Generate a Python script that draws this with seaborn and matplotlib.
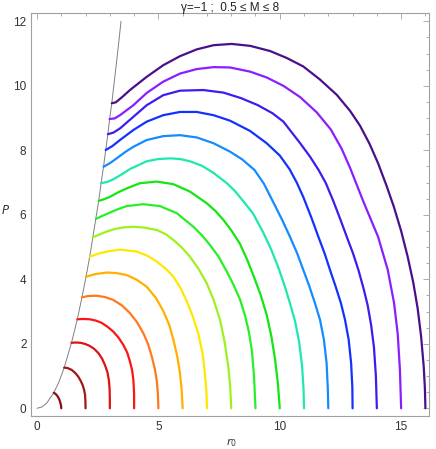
import pandas as pd
import seaborn as sns
import matplotlib.pyplot as plt
from matplotlib.ticker import MultipleLocator

# --- DATOS ---
masses = [0.5, 1.0, 1.5, 2.0, 2.5, 3.0, 3.5, 4.0, 4.5, 5.0, 5.5, 6.0, 6.5, 7.0, 7.5, 8.0]
colors = ['#8b0f0f', '#a01818', '#e01212', '#ff1414', '#ff7a1e', '#ffb000', '#ffe800', '#a0f020',
          '#28f028', '#14e614', '#1ee8b0', '#148cff', '#1432ff', '#3a1ef0', '#8a1eff', '#4a108c']

# frontera (linea fina gris)
bound_r = [0, 0.2, 0.4, 0.69, 0.9, 1.12, 1.42, 1.66, 1.85, 2.02, 2.17, 2.30, 2.42, 2.54, 2.64,
           2.74, 2.83, 2.92, 2.99, 3.08, 3.2, 3.33, 3.46]
bound_p = [0, 0.04, 0.16, 0.48, 0.81, 1.26, 2.03, 2.76, 3.44, 4.08, 4.70, 5.30, 5.87, 6.43, 6.98,
           7.49, 8.01, 8.50, 8.97, 9.46, 10.24, 11.09, 12.0]

r_05 = [0.69, 0.76, 0.84, 0.91, 0.96, 0.99, 1.0]
p_05 = [0.48, 0.45, 0.38, 0.29, 0.18, 0.08, 0]
r_10 = [1.12, 1.25, 1.43, 1.58, 1.70, 1.80, 1.88, 1.94, 1.98, 1.995, 2.0]
p_10 = [1.26, 1.25, 1.19, 1.09, 0.98, 0.85, 0.72, 0.57, 0.41, 0.2, 0]
r_15 = [1.42, 1.60, 1.80, 2.00, 2.18, 2.36, 2.53, 2.68, 2.80, 2.90, 2.96, 2.99, 3.0, 3.0]
p_15 = [2.03, 2.04, 2.03, 1.99, 1.93, 1.84, 1.71, 1.54, 1.34, 1.12, 0.88, 0.6, 0.3, 0]
r_20 = [1.66, 1.9, 2.18, 2.42, 2.66, 2.90, 3.14, 3.36, 3.56, 3.72, 3.83, 3.92, 3.97, 4.0, 4.0]
p_20 = [2.76, 2.77, 2.76, 2.72, 2.65, 2.53, 2.38, 2.19, 1.96, 1.72, 1.45, 1.17, 0.88, 0.45, 0]
r_25 = [1.85, 2.1, 2.46, 2.8, 3.14, 3.50, 3.83, 4.11, 4.38, 4.58, 4.73, 4.85, 4.93, 4.98, 5.0]
p_25 = [3.44, 3.48, 3.49, 3.45, 3.36, 3.19, 2.95, 2.68, 2.33, 1.98, 1.60, 1.23, 0.88, 0.45, 0]
r_30 = [2.02, 2.4, 2.87, 3.3, 3.70, 4.1, 4.52, 4.9, 5.20, 5.45, 5.62, 5.78, 5.89, 5.96, 6.0]
p_30 = [4.08, 4.16, 4.21, 4.19, 4.13, 3.99, 3.77, 3.42, 3.02, 2.58, 2.12, 1.60, 1.09, 0.55, 0]
r_35 = [2.17, 2.5, 2.87, 3.42, 4.11, 4.55, 4.93, 5.30, 5.62, 5.92, 6.18, 6.42, 6.65, 6.82, 6.92, 6.98, 7.0]
p_35 = [4.70, 4.79, 4.86, 4.92, 4.86, 4.73, 4.55, 4.33, 4.08, 3.72, 3.30, 2.84, 2.30, 1.70, 1.05, 0.5, 0]
r_40 = [2.30, 2.6, 2.87, 3.2, 3.56, 3.97, 4.45, 4.93, 5.3, 5.62, 5.96, 6.30, 6.65, 6.99, 7.28, 7.54,
        7.73, 7.88, 7.96, 8.0]
p_40 = [5.30, 5.40, 5.48, 5.56, 5.61, 5.63, 5.60, 5.53, 5.40, 5.22, 4.99, 4.70, 4.33, 3.88, 3.35, 2.74,
        2.05, 1.29, 0.65, 0]
r_45 = [2.42, 2.7, 3.01, 3.35, 3.70, 4.38, 5.07, 5.76, 6.44, 6.80, 7.13, 7.48, 7.82, 8.10, 8.36, 8.56,
        8.72, 8.85, 8.94, 9.0]
p_45 = [5.87, 5.97, 6.07, 6.18, 6.27, 6.33, 6.27, 6.05, 5.63, 5.36, 5.06, 4.70, 4.24, 3.82, 3.38, 2.90,
        2.40, 1.80, 1.00, 0]
r_50 = [2.54, 2.75, 3.01, 3.35, 3.70, 4.24, 4.93, 5.62, 6.30, 6.99, 7.35, 7.68, 8.02, 8.36, 8.65, 8.95,
        9.22, 9.46, 9.65, 9.80, 9.92, 10.0]
p_50 = [6.43, 6.48, 6.56, 6.70, 6.82, 6.98, 7.03, 6.95, 6.72, 6.36, 6.12, 5.84, 5.50, 5.10, 4.62, 4.05,
        3.50, 2.90, 2.25, 1.55, 0.80, 0]
r_55 = [2.64, 2.9, 3.14, 3.5, 3.83, 4.52, 5.0, 5.48, 5.9, 6.30, 6.80, 7.27, 7.82, 8.15, 8.50, 8.90,
        9.32, 9.65, 9.94, 10.20, 10.42, 10.63, 10.80, 10.92, 10.98, 11.0]
p_55 = [6.98, 7.02, 7.10, 7.26, 7.42, 7.66, 7.73, 7.75, 7.73, 7.66, 7.52, 7.30, 6.98, 6.74, 6.42, 6.04,
        5.45, 4.92, 4.37, 3.80, 3.26, 2.70, 2.05, 1.30, 0.60, 0]
r_60 = [2.74, 3.0, 3.28, 3.62, 3.97, 4.52, 5.20, 5.89, 6.58, 7.27, 7.95, 8.45, 8.96, 9.35, 9.74, 10.10,
        10.42, 10.72, 10.97, 11.22, 11.45, 11.66, 11.82, 11.93, 11.98, 12.0]
p_60 = [7.49, 7.60, 7.75, 7.94, 8.11, 8.32, 8.44, 8.47, 8.40, 8.22, 7.96, 7.72, 7.39, 6.96, 6.38, 5.84,
        5.32, 4.80, 4.29, 3.78, 3.26, 2.74, 2.12, 1.40, 0.60, 0]
r_65 = [2.83, 3.1, 3.42, 3.97, 4.52, 5.20, 5.89, 6.58, 7.27, 7.95, 8.78, 9.46, 10.0, 10.40, 10.70, 10.97,
        11.30, 11.59, 11.85, 12.07, 12.30, 12.52, 12.69, 12.84, 12.94, 12.99, 13.0]
p_65 = [8.01, 8.13, 8.32, 8.63, 8.89, 9.09, 9.19, 9.19, 9.09, 8.92, 8.60, 8.22, 7.84, 7.42, 7.00, 6.55,
        5.92, 5.32, 4.80, 4.29, 3.78, 3.26, 2.74, 2.12, 1.40, 0.65, 0]
r_70 = [2.92, 3.15, 3.42, 3.97, 4.52, 5.20, 5.89, 6.85, 7.68, 8.40, 9.10, 9.70, 10.15, 10.84, 11.25,
        11.60, 11.90, 12.21, 12.50, 12.76, 13.02, 13.24, 13.45, 13.62, 13.76, 13.88, 13.96, 14.0]
p_70 = [8.50, 8.55, 8.68, 9.04, 9.40, 9.71, 9.85, 9.87, 9.79, 9.62, 9.40, 9.15, 8.89, 8.22, 7.80,
        7.39, 6.98, 6.42, 5.85, 5.32, 4.80, 4.29, 3.72, 3.20, 2.60, 1.90, 1.00, 0]
r_75 = [2.99, 3.2, 3.42, 3.97, 4.52, 5.20, 5.89, 6.58, 7.27, 7.95, 8.78, 9.46, 10.15, 10.84, 11.52,
        12.10, 12.55, 12.90, 13.45, 14.05, 14.45, 14.71, 14.86, 14.95, 15.0]
p_75 = [8.97, 8.99, 9.09, 9.40, 9.78, 10.13, 10.38, 10.52, 10.58, 10.57, 10.44, 10.26, 10.00, 9.65, 9.18,
        8.65, 8.05, 7.45, 6.40, 5.32, 4.29, 3.26, 2.30, 1.20, 0]
r_80 = [3.08, 3.25, 3.55, 3.83, 4.52, 5.20, 5.89, 6.58, 7.27, 8.02, 8.78, 9.60, 10.30, 10.97, 11.65,
        12.35, 12.90, 13.31, 13.70, 14.05, 14.40, 14.70, 15.00, 15.27, 15.50, 15.68, 15.82, 15.93, 15.98, 16.0]
p_80 = [9.46, 9.49, 9.68, 9.87, 10.28, 10.64, 10.92, 11.13, 11.26, 11.30, 11.24, 11.08, 10.86, 10.60, 10.20,
        9.72, 9.22, 8.76, 8.20, 7.60, 6.90, 6.25, 5.50, 4.70, 3.90, 3.10, 2.25, 1.30, 0.60, 0]

curves_r = [r_05, r_10, r_15, r_20, r_25, r_30, r_35, r_40, r_45, r_50, r_55, r_60, r_65, r_70, r_75, r_80]
curves_p = [p_05, p_10, p_15, p_20, p_25, p_30, p_35, p_40, p_45, p_50, p_55, p_60, p_65, p_70, p_75, p_80]

rows = []
for m, rr, pp in zip(masses, curves_r, curves_p):
    for r, p in zip(rr, pp):
        rows.append({'M': m, 'r0': r, 'P': p})
df = pd.DataFrame(rows)

# --- FIGURA ---
sns.set_style('white')
plt.rcParams['font.family'] = ['Liberation Sans', 'DejaVu Sans']

fig = plt.figure(figsize=(4.36, 4.49), dpi=100)
ax = fig.add_axes([0.0718, 0.0742, 0.9128, 0.8962])

sns.lineplot(x=bound_r, y=bound_p, color='#808080', lw=0.7, sort=False, estimator=None, ax=ax)
sns.lineplot(data=df, x='r0', y='P', hue='M', palette=dict(zip(masses, colors)),
             sort=False, estimator=None, legend=False, lw=1.6, ax=ax)

ax.set_xlim(-0.235, 16.16)
ax.set_ylim(-0.23, 12.25)

ax.xaxis.set_major_locator(MultipleLocator(5))
ax.xaxis.set_minor_locator(MultipleLocator(1))
ax.yaxis.set_major_locator(MultipleLocator(2))
ax.yaxis.set_minor_locator(MultipleLocator(0.5))
ax.tick_params(which='both', direction='in', top=True, right=True, color='#a0a0a0',
               labelsize=8.5, labelcolor='#333333', width=0.6)
ax.tick_params(which='major', length=4.2, pad=3.5)
ax.tick_params(which='minor', length=2.5)
for s in ax.spines.values():
    s.set_color('#a0a0a0')
    s.set_linewidth(0.8)

ax.set_title('γ=−1 ;  0.5 ≤ M ≤ 8', fontsize=8.5, pad=2, color='#222222')
ax.set_xlabel('$r_0$', fontsize=8, color='#333333', va='top')
ax.set_ylabel('$P$', fontsize=8.5, rotation=0, color='#333333', va='center', ha='center')
ax.xaxis.set_label_coords(0.502, -0.05)
ax.yaxis.set_label_coords(-0.066, 0.511)

fig.savefig('out.png', dpi=100)
plt.close()
